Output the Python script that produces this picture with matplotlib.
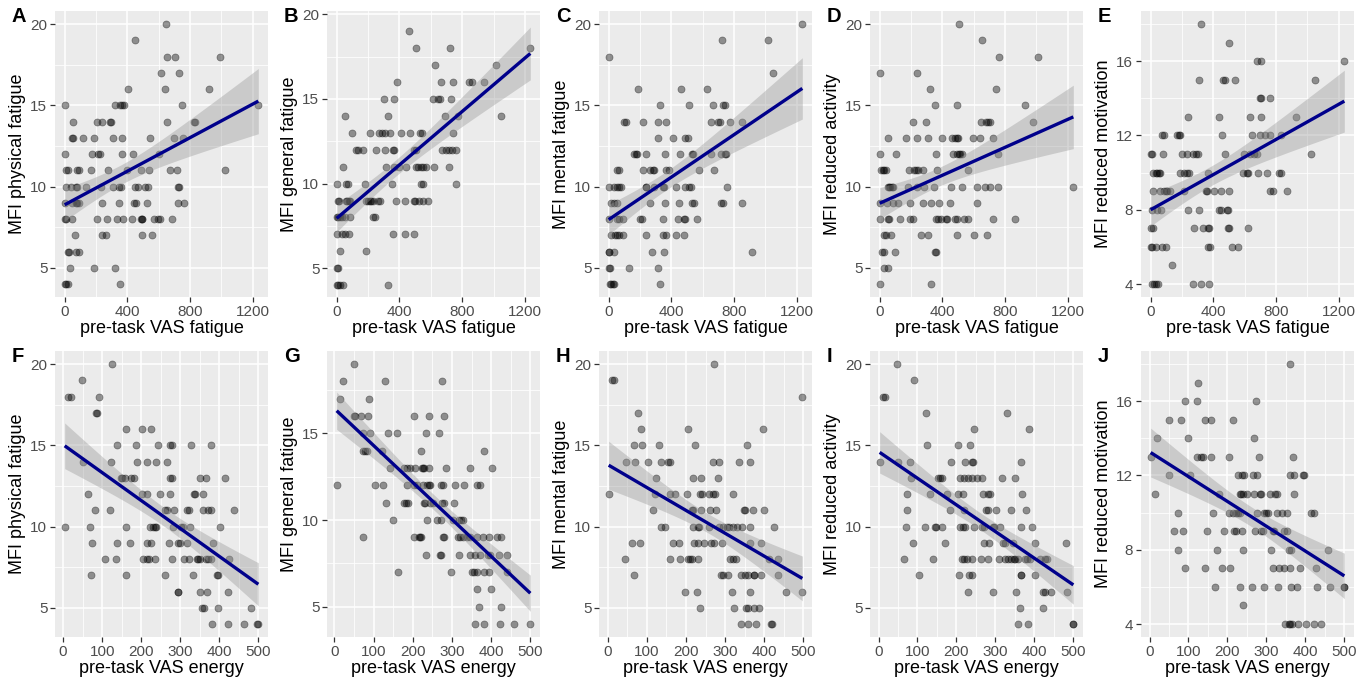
import numpy as np
import matplotlib.pyplot as plt
from matplotlib.ticker import MultipleLocator

plt.rcParams['font.family'] = ['Liberation Sans', 'DejaVu Sans']

# each dict: MFI score -> pre-task VAS values of the participants with that score
phys_vs_fatigue = {
    20: [647], 19: [449], 18: [653, 705, 991], 17: [616, 730], 16: [407, 637, 922],
    15: [4, 319, 355, 365, 380, 747, 1235],
    14: [56, 209, 240, 288, 298, 653, 824, 831],
    13: [48, 56, 115, 188, 307, 365, 543, 699, 755],
    12: [4, 173, 215, 223, 365, 434, 601],
    11: [10, 21, 79, 94, 167, 278, 397, 486, 536, 672, 716, 1023],
    10: [10, 42, 69, 77, 136, 230, 307, 349, 361, 449, 465, 511, 532, 720, 730],
    9: [0, 48, 69, 77, 94, 236, 349, 445, 453, 526, 720, 758],
    8: [0, 10, 48, 209, 271, 334, 369, 428, 486, 490, 495, 570, 595, 605, 682],
    7: [67, 236, 265, 490, 559], 6: [21, 25, 69, 94], 5: [35, 184, 319], 4: [0, 10, 21, 355],
}
gen_vs_fatigue = {
    19: [459], 18: [506, 722, 1234], 17: [628, 1014],
    16: [384, 666, 743, 843, 865, 939],
    15: [299, 367, 615, 645, 658, 730], 14: [53, 327, 690, 775, 1046],
    13: [100, 213, 267, 288, 310, 337, 412, 465, 534, 544, 743],
    12: [122, 137, 168, 248, 305, 358, 368, 490, 505, 674, 695, 716, 733, 758],
    11: [42, 316, 368, 396, 442, 505, 516, 537, 547, 568, 620, 716],
    10: [0, 59, 74, 179, 354, 537, 547, 758],
    9: [11, 17, 59, 67, 80, 84, 189, 200, 211, 221, 232, 263, 274, 375, 438, 495, 501, 526, 547, 579],
    8: [0, 11, 21, 32, 53, 84, 232, 242],
    7: [0, 32, 53, 80, 358, 438, 495], 6: [21, 189], 5: [0, 11], 4: [0, 11, 21, 42, 326],
}
ment_vs_fatigue = {
    20: [1237], 19: [723, 1018], 18: [0], 17: [1051], 16: [189, 465, 628],
    15: [328, 515, 669, 733, 740],
    14: [96, 111, 221, 315, 369, 654, 697, 712, 778, 851],
    13: [315, 414, 489, 504],
    12: [163, 173, 182, 236, 359, 453, 532, 538, 653, 720, 741, 751],
    11: [56, 69, 219, 261, 286, 292, 369, 386, 574, 674],
    10: [0, 35, 56, 69, 77, 236, 240, 292, 344, 355, 428, 490, 515, 526, 758],
    9: [17, 35, 56, 267, 361, 449, 532, 543, 720, 730, 849],
    8: [0, 52, 63, 90, 202, 213, 349, 445, 482, 490, 563],
    7: [15, 42, 56, 69, 90, 236, 344, 365, 428, 480],
    6: [0, 4, 35, 275, 351, 918], 5: [0, 10, 131, 317], 4: [6, 17, 27, 35, 328],
}
act_vs_fatigue = {
    20: [507], 19: [653], 18: [759, 1010], 17: [0, 237], 16: [320, 742], 15: [354, 493, 930],
    14: [212, 295, 649, 680, 690, 701, 975],
    13: [56, 171, 237, 306, 399, 462, 483, 493, 499, 597, 639, 722],
    12: [0, 102, 358, 466, 493, 503, 514, 528, 753],
    11: [8, 21, 29, 42, 187, 222, 233, 243, 275, 364, 566],
    10: [52, 58, 67, 77, 83, 181, 237, 285, 347, 458, 524, 618, 674, 701, 753, 1235],
    9: [0, 46, 87, 119, 191, 275, 327, 379, 451, 618],
    8: [4, 56, 62, 129, 191, 212, 358, 374, 389, 420, 431, 483, 493, 535, 566, 722, 860],
    7: [25, 42, 73, 264, 306, 493, 601, 686],
    6: [15, 25, 98, 354, 358], 5: [29, 50], 4: [4, 326],
}
motiv_vs_fatigue = {
    18: [324], 17: [497], 16: [680, 705, 1235], 15: [309, 460, 475, 540, 1050],
    14: [696, 706, 759], 13: [240, 435, 631, 706, 926],
    12: [73, 84, 167, 180, 188, 456, 644, 696, 727, 759, 832],
    11: [0, 6, 79, 201, 230, 268, 289, 299, 472, 598, 633, 658, 675, 1020],
    10: [17, 31, 42, 52, 59, 188, 215, 230, 247, 366, 591, 612, 623, 686, 742, 817, 832],
    9: [17, 59, 84, 96, 105, 121, 215, 351, 362, 403, 449, 497, 759, 780, 870],
    8: [6, 38, 65, 240, 309, 435, 451, 487, 493],
    7: [0, 13, 278, 334, 368, 372, 493, 497, 619],
    6: [0, 6, 33, 69, 96, 366, 376, 518, 560], 5: [138], 4: [6, 21, 33, 48, 268, 324, 372],
}

phys_vs_energy = {
    20: [126], 19: [49], 18: [13, 19, 91], 17: [84, 87], 16: [160, 203, 224],
    15: [139, 186, 244, 275, 279, 327, 380],
    14: [50, 122, 188, 216, 239, 267],
    13: [147, 152, 158, 175, 182, 274, 278, 350, 365, 415],
    12: [64, 203, 215, 248, 274, 335, 339, 359],
    11: [81, 120, 261, 265, 284, 318, 322, 359, 372, 379, 438],
    10: [4, 70, 162, 222, 231, 235, 238, 282, 303, 308, 326, 402],
    9: [74, 139, 171, 214, 226, 272, 295, 299, 318, 385],
    8: [107, 135, 205, 216, 221, 235, 278, 310, 323, 342, 346, 350, 366, 372, 380, 425],
    7: [71, 161, 261, 332, 393, 397],
    6: [293, 295, 350, 369, 423], 5: [355, 361, 397, 480], 4: [382, 423, 463, 497, 500],
}
gen_vs_energy = {
    19: [50], 18: [21, 130, 275], 17: [15, 89], 16: [49, 53, 68, 85, 203, 241, 281],
    15: [73, 91, 138, 160, 235, 267], 14: [73, 79, 83, 121, 220, 382],
    13: [143, 177, 185, 192, 207, 224, 226, 230, 241, 286, 346, 401],
    12: [6, 104, 124, 185, 203, 211, 226, 237, 241, 244, 271, 278, 309, 331, 365, 372],
    11: [132, 179, 184, 187, 228, 232, 244, 252, 275, 281, 305],
    10: [149, 237, 261, 273, 303, 318, 324, 329],
    9: [73, 203, 215, 218, 220, 278, 281, 315, 321, 329, 339, 346, 363, 380, 395, 415, 425],
    8: [234, 269, 273, 318, 346, 358, 372, 391, 397, 421, 440],
    7: [162, 297, 350, 356, 363, 382, 395, 440],
    6: [365, 399], 5: [369, 425], 4: [359, 382, 423, 459, 500],
}
ment_vs_energy = {
    20: [271], 19: [10, 16], 18: [498], 17: [77], 16: [85, 206, 397],
    15: [68, 88, 131, 223, 357],
    14: [47, 70, 102, 137, 155, 158, 268, 285, 337, 364],
    13: [122, 219, 238, 283],
    12: [2, 120, 159, 172, 202, 236, 241, 259, 268, 274, 320],
    11: [116, 215, 219, 238, 262, 277, 348, 351, 371, 399],
    10: [137, 145, 217, 231, 234, 259, 285, 296, 305, 311, 320, 331, 343, 363, 425],
    9: [62, 81, 168, 182, 221, 231, 247, 265, 272, 291, 363, 391],
    8: [45, 159, 185, 204, 210, 215, 231, 314, 320, 328, 412, 436],
    7: [68, 290, 294, 308, 341, 351, 360, 373, 375, 391, 436],
    6: [198, 228, 317, 364, 457, 498],
    5: [236, 324, 354, 358, 375, 386], 4: [341, 360, 380, 418, 421],
}
act_vs_energy = {
    20: [47], 19: [91], 18: [11, 17], 17: [123, 329], 16: [244, 385], 15: [125, 203, 235],
    14: [3, 49, 80, 187, 222, 241, 243, 366],
    13: [84, 153, 158, 162, 209, 220, 230, 241, 252, 265, 317, 351],
    12: [73, 132, 175, 203, 218, 267, 282, 286, 368],
    11: [72, 184, 220, 276, 280, 302, 339, 379],
    10: [71, 119, 144, 147, 164, 209, 218, 222, 244, 265, 270, 293, 297, 313, 365, 395],
    9: [88, 170, 270, 284, 319, 325, 345, 401, 480],
    8: [65, 141, 214, 220, 227, 240, 263, 280, 309, 325, 332, 341, 347, 351, 358, 377,
        382, 388, 414, 427, 433],
    7: [103, 207, 233, 240, 365, 366, 401],
    6: [230, 293, 352, 422, 427, 442, 485], 5: [362, 422], 4: [359, 384, 500, 500],
}
motiv_vs_energy = {
    18: [361], 17: [124], 16: [91, 121, 274], 15: [50, 81, 142, 159, 213], 14: [20, 99, 267],
    13: [3, 123, 131, 138, 159, 204, 280, 367],
    12: [50, 105, 226, 238, 243, 266, 275, 361, 371, 393, 397],
    11: [15, 178, 232, 236, 240, 250, 268, 283, 287, 310, 322, 327, 370],
    10: [73, 164, 204, 215, 221, 226, 232, 277, 294, 298, 303, 328, 339, 352, 414, 423],
    9: [64, 87, 148, 190, 217, 221, 238, 271, 286, 290, 318, 320, 344, 352],
    8: [73, 172, 241, 311, 358, 364, 457],
    7: [90, 142, 185, 207, 318, 333, 346, 361, 387, 427],
    6: [167, 232, 264, 294, 330, 363, 378, 430, 464, 498, 500],
    5: [241], 4: [348, 358, 361, 365, 380, 401, 423, 440],
}

letters = ['A', 'B', 'C', 'D', 'E', 'F', 'G', 'H', 'I', 'J']
ylabels = ['MFI physical fatigue', 'MFI general fatigue', 'MFI mental fatigue',
           'MFI reduced activity', 'MFI reduced motivation'] * 2
xlabels = ['pre-task VAS fatigue'] * 5 + ['pre-task VAS energy'] * 5
panels = [phys_vs_fatigue, gen_vs_fatigue, ment_vs_fatigue, act_vs_fatigue, motiv_vs_fatigue,
          phys_vs_energy, gen_vs_energy, ment_vs_energy, act_vs_energy, motiv_vs_energy]


def unpack(rows):
    x, y = [], []
    for score, xs in rows.items():
        x += xs
        y += [score] * len(xs)
    return np.array(x, float), np.array(y, float)


def smooth_lm(x, y, n=80, t=1.98):
    # like geom_smooth(method='lm'): fitted line + 95% confidence band
    b1, b0 = np.polyfit(x, y, 1)
    xs = np.linspace(x.min(), x.max(), n)
    fit = b0 + b1 * xs
    s = np.sqrt(np.sum((y - (b0 + b1 * x)) ** 2) / (len(x) - 2))
    se = s * np.sqrt(1 / len(x) + (xs - x.mean()) ** 2 / np.sum((x - x.mean()) ** 2))
    return xs, fit, fit - t * se, fit + t * se


def expand(a, b):
    r = b - a
    return a - 0.05 * r, b + 0.05 * r


W, H = 1369, 678
fig = plt.figure(figsize=(W / 100, H / 100), dpi=100)
fig.patch.set_facecolor('white')

lefts = [55, 327, 599, 870, 1141]
tops = [11, 351]
pw, ph = 213, 286

for i, rows in enumerate(panels):
    r, c = divmod(i, 5)
    ax = fig.add_axes([lefts[c] / W, 1 - (tops[r] + ph) / H, pw / W, ph / H])
    x, y = unpack(rows)
    ax.set_facecolor('#EBEBEB')
    for s in ax.spines.values():
        s.set_visible(False)

    ax.scatter(x, y, s=26, color='black', alpha=0.4, linewidths=0.5,
               edgecolors='black', zorder=3)
    xs, fit, lo, hi = smooth_lm(x, y)
    ax.fill_between(xs, lo, hi, color='#999999', alpha=0.4, linewidth=0, zorder=4)
    ax.plot(xs, fit, color='#00008B', lw=2.4, zorder=5, solid_capstyle='butt')

    ax.set_xlim(*expand(x.min(), x.max()))
    ylo, yhi = expand(y.min(), y.max())
    if i == 1:
        ylo, yhi = 3.3, 20.2
    ax.set_ylim(ylo, yhi)

    if r == 0:
        ax.xaxis.set_major_locator(MultipleLocator(400))
        ax.xaxis.set_minor_locator(MultipleLocator(200))
    else:
        ax.xaxis.set_major_locator(MultipleLocator(100))
        ax.xaxis.set_minor_locator(MultipleLocator(50))
    if c == 4:
        ax.yaxis.set_major_locator(MultipleLocator(4))
        ax.yaxis.set_minor_locator(MultipleLocator(2))
    else:
        ax.yaxis.set_major_locator(MultipleLocator(5))
        ax.yaxis.set_minor_locator(MultipleLocator(2.5))

    ax.grid(which='major', color='white', lw=1.1, zorder=0)
    ax.grid(which='minor', color='white', lw=0.55, zorder=0)
    ax.set_axisbelow(True)
    ax.tick_params(which='major', direction='out', length=3.5, width=0.9, color='#333333',
                   labelsize=11, labelcolor='#4D4D4D', pad=2)
    ax.tick_params(which='minor', length=0)

    ax.set_xlabel(xlabels[i], fontsize=13, labelpad=1)
    ax.set_ylabel(ylabels[i], fontsize=13, labelpad=3)

    fig.text((lefts[c] - 43) / W, 1 - (tops[r] + 6) / H, letters[i], fontsize=14.5,
             fontweight='bold', va='center', ha='left')

fig.savefig('out.png', dpi=100)
